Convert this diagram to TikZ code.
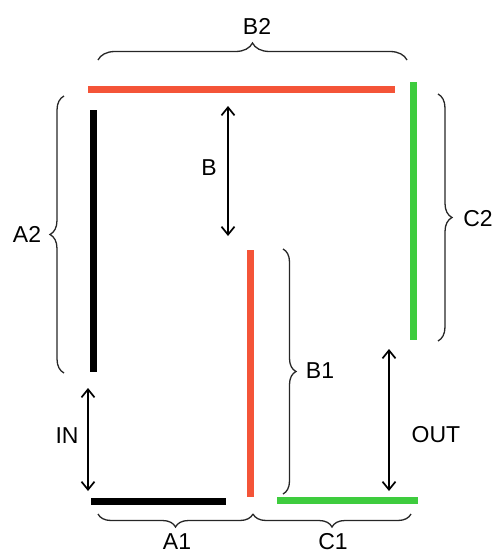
\documentclass[tikz,border=0pt]{standalone}
\usepackage{fontspec}
\setmainfont{Liberation Sans}
\usetikzlibrary{decorations.pathreplacing,arrows.meta}
\definecolor{barred}{RGB}{244,84,56}
\definecolor{bargreen}{RGB}{62,204,62}
\tikzset{
  bar/.style={line width=7pt},
  brc/.style={decorate,decoration={brace,amplitude=#1},line width=1.3pt,draw=black!85},
  dim/.style={{Straight Barb[length=8pt,width=13pt,line width=1.7pt]}-{Straight Barb[length=8pt,width=13pt,line width=1.7pt]},line width=1.6pt},
  lbl/.style={font=\fontsize{23}{23}\selectfont,inner sep=0pt}
}
\begin{document}
\begin{tikzpicture}[x=1pt,y=-1pt]
\clip (0,0) rectangle (501,557);
\useasboundingbox (0,0) rectangle (501,557);
% bars
\coordinate (rt1) at (88,89); \coordinate (rt2) at (395,89);
\coordinate (bk1) at (93,110); \coordinate (bk2) at (93,372);
\coordinate (gr1) at (413,82); \coordinate (gr2) at (413,340);
\coordinate (rm1) at (250,250); \coordinate (rm2) at (250,497);
\coordinate (bb1) at (91,501); \coordinate (bb2) at (226,501);
\coordinate (gb1) at (277,500); \coordinate (gb2) at (418,500);
\draw[bar,barred] (rt1) -- (rt2);
\draw[bar,black] (bk1) -- (bk2);
\draw[bar,bargreen] (gr1) -- (gr2);
\draw[bar,barred] (rm1) -- (rm2);
\draw[bar,black] (bb1) -- (bb2);
\draw[bar,bargreen] (gb1) -- (gb2);
% braces
\coordinate (b2a) at (98,60); \coordinate (b2b) at (407,60);
\coordinate (a2a) at (64,373); \coordinate (a2b) at (64,96);
\coordinate (c2a) at (438,94); \coordinate (c2b) at (438,341);
\coordinate (b1a) at (283,249); \coordinate (b1b) at (283,494);
\coordinate (a1a) at (253,514); \coordinate (a1b) at (98,514);
\coordinate (c1a) at (411,514); \coordinate (c1b) at (253,514);
\draw[brc=17pt] (b2a) -- (b2b);
\draw[brc=14pt] (a2a) -- (a2b);
\draw[brc=14pt] (c2a) -- (c2b);
\draw[brc=13pt] (b1a) -- (b1b);
\draw[brc=13pt] (a1a) -- (a1b);
\draw[brc=13pt] (c1a) -- (c1b);
% dimension arrows
\coordinate (ba) at (228,106); \coordinate (bb) at (228,236);
\coordinate (ia) at (88,388); \coordinate (ib) at (88,491);
\coordinate (oa) at (389,349); \coordinate (ob) at (389,491);
\draw[dim] (ba) -- (bb);
\draw[dim] (ia) -- (ib);
\draw[dim] (oa) -- (ob);
% labels
\node[lbl] (lB2) at (257,26) {B2};
\node[lbl] (lA2) at (27,234) {A2};
\node[lbl] (lC2) at (478,219) {C2};
\node[lbl] (lB1) at (320,371) {B1};
\node[lbl] (lA1) at (177,542) {A1};
\node[lbl] (lC1) at (333,542) {C1};
\node[lbl] (lB) at (209,168) {B};
\node[lbl] (lIN) at (67,436) {IN};
\node[lbl] (lOUT) at (436,435) {OUT};
\end{tikzpicture}
\end{document}
